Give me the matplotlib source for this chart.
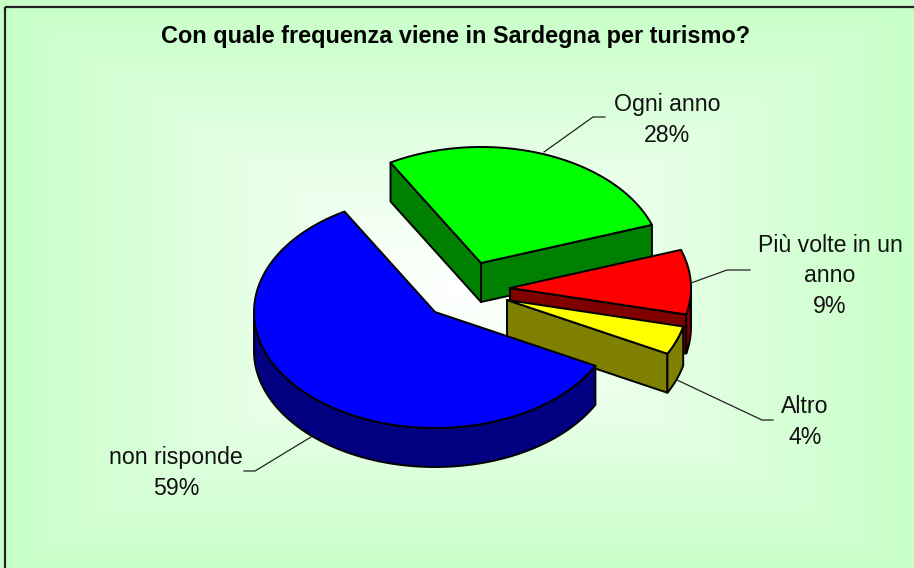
"""3D exploded pie: frequency of tourist visits to Sardinia."""

import numpy as np
import matplotlib

matplotlib.use("Agg")
import matplotlib.pyplot as plt
from matplotlib.colors import LinearSegmentedColormap
from matplotlib.patches import Polygon, Rectangle

plt.rcParams["font.family"] = ["Liberation Sans", "DejaVu Sans"]

title = "Con quale frequenza viene in Sardegna per turismo?"
categories = ["Ogni anno", "Più volte in un\nanno", "Altro", "non risponde"]
values = [28, 9, 4, 59]

top_colors = ["#00ff00", "#ff0000", "#ffff00", "#0000ff"]
side_colors = ["#008000", "#800000", "#808000", "#000080"]

# pie geometry in image pixels
start_angle = 120
rx, ry, depth = 181, 116, 39
centers = [(481, 263), (510, 288), (507, 300), (435, 312)]
label_pos = [(667, 120), (830, 276), (805, 422), (176, 473)]
leaders = [
    [(544, 152), (593, 117), (605, 117)],
    [(691, 283), (727, 270), (750, 270)],
    [(677, 380), (762, 420), (773, 420)],
    [(311, 437), (255, 471), (244, 471)],
]


def rim(center, angles):
    a = np.radians(angles)
    return np.column_stack([center[0] + rx * np.cos(a), center[1] - ry * np.sin(a)])


def draw_slice(ax, center, a, b, top, side):
    """Slice runs clockwise from angle a to angle b (degrees)."""
    c = np.array(center, dtype=float)
    drop = np.array([0, depth])
    kw = dict(facecolor=side, edgecolor="black", linewidth=1.4, joinstyle="round")

    # cut faces that look towards the viewer
    for ang, visible in ((a, np.cos(np.radians(a)) < 0), (b, np.cos(np.radians(b)) > 0)):
        if visible:
            p = rim(c, [ang])[0]
            ax.add_patch(Polygon([c, p, p + drop, c + drop], **kw))

    # outer wall, front half only
    hi, lo = min(a, 0), max(b, -180)
    if hi > lo:
        arc = rim(c, np.linspace(hi, lo, 120))
        ax.add_patch(Polygon(np.vstack([arc, (arc + drop)[::-1]]), **kw))

    arc = rim(c, np.linspace(a, b, 200))
    ax.add_patch(Polygon(np.vstack([c, arc]), facecolor=top, edgecolor="black",
                         linewidth=1.4, joinstyle="round"))


fig = plt.figure(figsize=(9.14, 5.68), dpi=100)
ax = fig.add_axes([0, 0, 1, 1])
ax.set_xlim(0, 914)
ax.set_ylim(568, 0)
ax.axis("off")

# background: rectangular gradient, white in the middle
xx, yy = np.meshgrid(np.linspace(0, 914, 457), np.linspace(0, 568, 284))
t = np.maximum(np.abs(xx - 458) / 454, np.abs(yy - 290) / 283)
cmap = LinearSegmentedColormap.from_list("bg", ["#ffffff", "#c8ffc8"])
ax.imshow(t, extent=(0, 914, 568, 0), cmap=cmap, vmin=0, vmax=1, aspect="auto", zorder=0)
# only the left and top of the frame fall inside the picture
ax.add_patch(Rectangle((4.5, 7), 930, 580, fill=False, edgecolor="#222222",
                       linewidth=1.6, clip_on=True))
ax.set_xlim(0, 914)
ax.set_ylim(568, 0)

ax.text(456, 37, title, ha="center", va="center", fontsize=16.9, fontweight="bold",
        color="black")

for line in leaders:
    xs, ys = zip(*line)
    ax.plot(xs, ys, color="#222222", linewidth=0.9)

# slices, back to front
angle = start_angle
for cat, val, center, top, side, pos in zip(categories, values, centers, top_colors,
                                            side_colors, label_pos):
    end = angle - val * 3.6
    draw_slice(ax, center, angle, end, top, side)
    angle = end
    ax.text(pos[0], pos[1], f"{cat}\n{val}%", ha="center", va="center", fontsize=16.7,
            color="#111111", linespacing=1.42)

fig.savefig("out.png", dpi=100)
plt.close(fig)
